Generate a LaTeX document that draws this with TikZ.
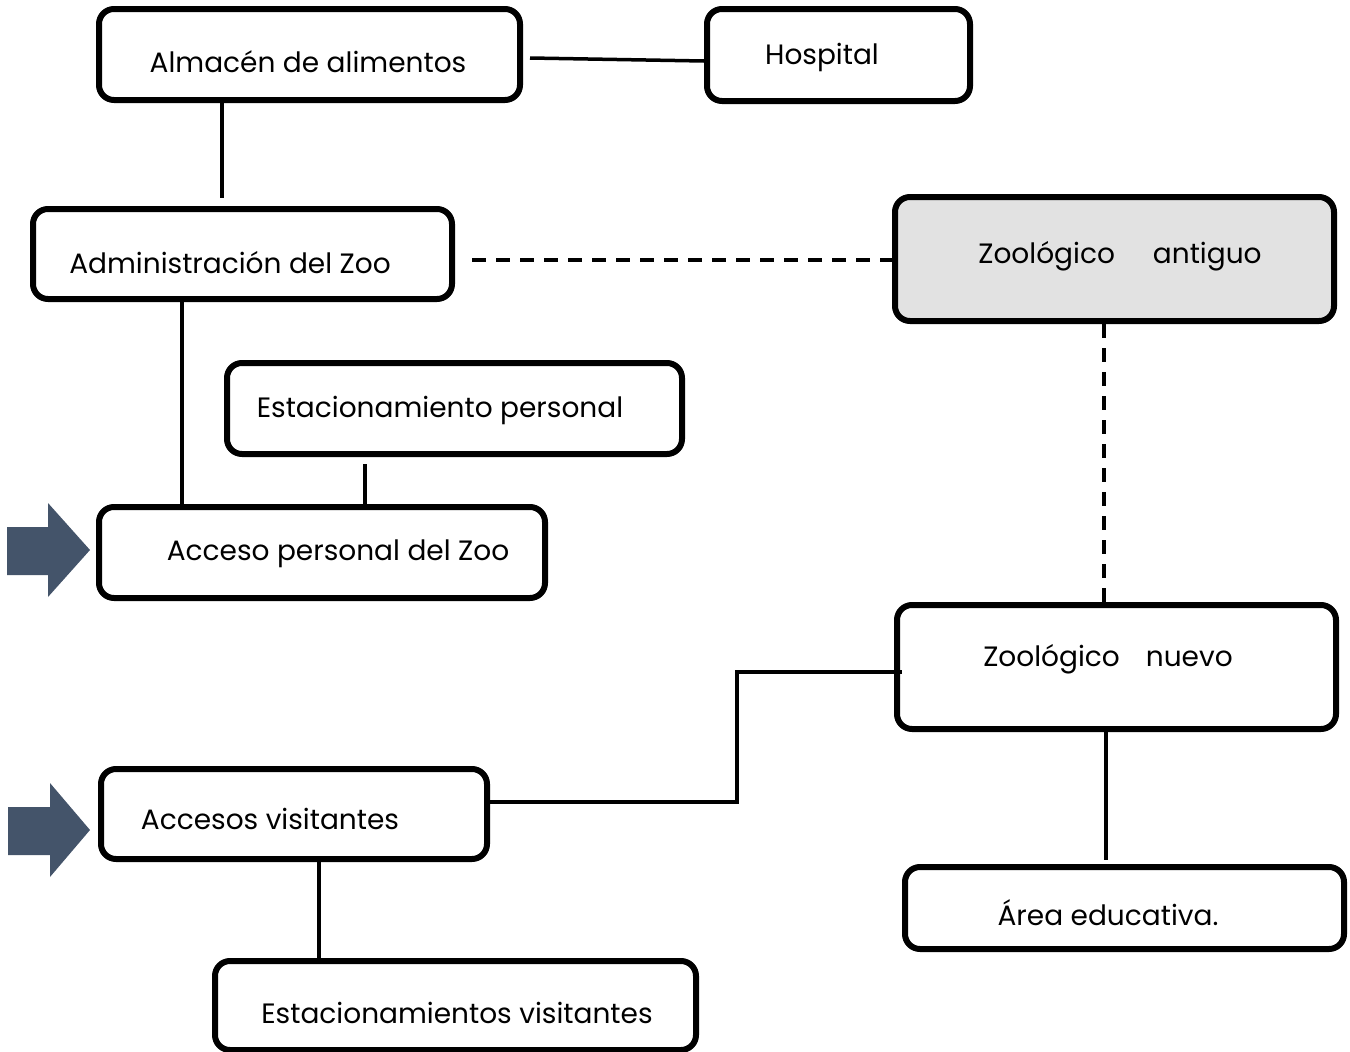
\documentclass[tikz,border=0pt]{standalone}
\usepackage{fontspec}
\setmainfont{Poppins}
\begin{document}
\begin{tikzpicture}[x=1pt,y=-1pt,
  box/.style={draw=black, line width=6pt, rounded corners=15pt, fill=white,
              inner sep=0pt, anchor=center},
  lbl/.style={inner sep=0pt, anchor=center, font=\fontsize{28}{32}\selectfont},
  link/.style={draw=black, line width=3.5pt},
  dlink/.style={link, dash pattern=on 14pt off 10pt},
  blockarrow/.style={fill=arrowblue, draw=none}]
\definecolor{arrowblue}{HTML}{44546A}
\definecolor{oldfill}{HTML}{E2E2E2}
\useasboundingbox (0,0) rectangle (1350,1052);

% boxes
\node[box, minimum width=421pt, minimum height=91pt] (alm) at (309.5,54.5) {};
\node[box, minimum width=263pt, minimum height=92pt] (hos) at (838.5,55) {};
\node[box, minimum width=419pt, minimum height=90pt] (adm) at (242.5,254) {};
\node[box, fill=oldfill, minimum width=439pt, minimum height=124pt] (old) at (1114.5,259) {};
\node[box, minimum width=455pt, minimum height=91pt] (estp) at (454.5,408.5) {};
\node[box, minimum width=446pt, minimum height=91pt] (accp) at (322,552.5) {};
\node[box, minimum width=439pt, minimum height=124pt] (new) at (1116.5,667) {};
\node[box, minimum width=386pt, minimum height=90pt] (accv) at (294,814) {};
\node[box, minimum width=439pt, minimum height=82pt] (area) at (1124.5,908) {};
\node[box, minimum width=481pt, minimum height=89pt] (estv) at (455.5,1005.5) {};

% labels
\node[lbl] (talm) at (308,62) {Almacén de alimentos};
\node[lbl] (thos) at (822,57) {Hospital};
\node[lbl] (tadm) at (230,263) {Administración del Zoo};
\node[lbl] (told) at (1120,256) {Zoológico\hspace{38pt}antiguo};
\node[lbl] (testp) at (440,410) {Estacionamiento personal};
\node[lbl] (taccp) at (338,554) {Acceso personal del Zoo};
\node[lbl] (tnew) at (1108,659) {Zoológico\hspace{26pt}nuevo};
\node[lbl] (taccv) at (270,819) {Accesos visitantes};
\node[lbl] (tarea) at (1108,913) {Área educativa.};
\node[lbl] (testv) at (457,1013) {Estacionamientos visitantes};

% connectors
\coordinate (almR) at ([xshift=7pt,yshift=-3.5pt]alm.east);
\draw[link] (almR) -- ([yshift=-6pt]hos.west);
\draw[link] ([xshift=-87.5pt]alm.south) -- ([xshift=-20.5pt,yshift=8pt]adm.north);
\draw[dlink] ([xshift=17pt,yshift=-6pt]adm.east) -- ([yshift=-1pt]old.west);
\draw[dlink] ([xshift=-10.5pt]old.south) -- ([xshift=-12.5pt]new.north);
\draw[link] ([xshift=-60.5pt]adm.south) -- ([xshift=-140pt]accp.north);
\draw[link] ([xshift=-89.5pt,yshift=-7pt]estp.south) -- ([xshift=43pt]accp.north);
\coordinate (elbowA) at (737,802);
\coordinate (elbowB) at (737,672);
\draw[link] ([yshift=12pt]accv.east) -- (elbowA) -- (elbowB) -- ([xshift=8pt,yshift=-5pt]new.west);
\draw[link] ([xshift=-10.5pt]new.south) -- ([xshift=-18.5pt,yshift=4pt]area.north);
\draw[link] ([xshift=25pt]accv.south) -- ([xshift=-136.5pt]estv.north);

% entrance arrows
\fill[blockarrow] (7,527) -- (48,527) -- (48,503) -- (90,550) -- (48,597) -- (48,575) -- (7,575) -- cycle;
\fill[blockarrow] (8,807) -- (50,807) -- (50,783) -- (90,830) -- (50,877) -- (50,855) -- (8,855) -- cycle;
\end{tikzpicture}
\end{document}
